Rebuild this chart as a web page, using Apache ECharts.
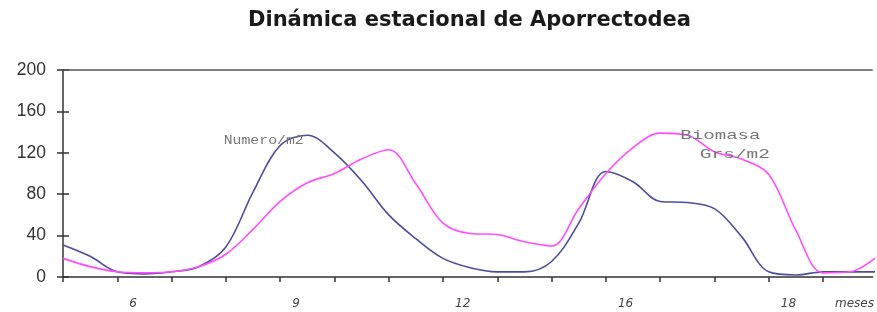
<!DOCTYPE html>
<html>
<head>
<meta charset="utf-8">
<script src="https://cdn.jsdelivr.net/npm/echarts@6/dist/echarts.min.js"></script>
<style>
  html, body { margin: 0; padding: 0; background: #fff; }
  #chart { width: 877px; height: 312px; }
</style>
</head>
<body>
<div id="chart"></div>
<script>
// x positions in month steps (0 = first tick), sampled every half month
var posiciones = [0, 0.5, 1, 1.5, 2, 2.5, 3, 3.5, 4, 4.5, 5, 5.5, 6, 6.5, 7, 7.5,
    8, 8.5, 9, 9.5, 10, 10.5, 11, 11.5, 12, 12.5, 13, 13.5, 14, 14.5, 15];
var numero = [31, 20, 5, 3, 5, 10, 29, 82, 127, 137, 120, 93, 60, 37, 18, 9,
    5, 5, 15, 52, 102, 92, 73, 72, 66, 39, 5, 2, 5, 5, 5];
var biomasa = [18, 10, 5, 4, 5, 10, 22, 46, 73, 91, 100, 114, 123, 90, 52, 42,
    41, 34, 30, 66, 100, 125, 139, 137, 121, 114, 99, 45, 4, 5, 20];
// tick index -> label
var etiquetas = { 1: '6', 4: '9', 7: '12', 10: '16', 13: '18', 14: 'meses' };
var yTicks = [0, 40, 80, 120, 160, 200];

var chart = echarts.init(document.getElementById('chart'));

var mk = function(_xs, _ys) {
    var out = [];
    for (var i = 0; i < _xs.length; i++) {
        out.push([_xs[i], _ys[i]]);
    }
    return out;
};

var option = {
    animation: false,
    title: {
        text: 'Dinámica estacional de Aporrectodea',
        left: 243,
        top: 5,
        textStyle: { fontFamily: 'DejaVu Sans', fontWeight: 'bold', fontSize: 21, color: '#1a1a1a' }
    },
    grid: { left: 63, top: 70, right: -2, bottom: 35, show: false },
    xAxis: {
        type: 'value',
        min: 0,
        max: 14.915,
        interval: 1,
        axisLine: { lineStyle: { color: '#333', width: 1.5 } },
        axisTick: { show: true, length: 5, inside: false, lineStyle: { color: '#333', width: 1.5 } },
        splitLine: { show: false },
        axisLabel: {
            margin: 21,
            align: 'left',
            padding: [0, 0, 0, 12],
            fontFamily: 'DejaVu Sans',
            fontStyle: 'italic',
            fontSize: 12,
            color: '#444',
            showMaxLabel: false,
            formatter: function(v) {
                var k = Math.round(v);
                if (Math.abs(v - k) > 0.01) return '';
                return etiquetas[k] || '';
            }
        }
    },
    yAxis: [{
        type: 'value',
        min: yTicks[0],
        max: yTicks[yTicks.length - 1],
        interval: 40,
        axisLine: { show: true, lineStyle: { color: '#333', width: 1.5 } },
        axisTick: { show: true, length: 6, lineStyle: { color: '#333', width: 1.5 } },
        splitLine: { show: false },
        axisLabel: { margin: 17, fontFamily: 'Liberation Sans', fontSize: 17.5, color: '#333' }
    }, {
        type: 'value',
        position: 'left',
        min: yTicks[0],
        max: yTicks[yTicks.length - 1],
        interval: 40,
        axisLine: { show: false },
        axisTick: { show: true, inside: true, length: 6, lineStyle: { color: '#333', width: 1.5 } },
        axisLabel: { show: false },
        splitLine: { show: false }
    }],
    series: [{
        name: 'Numero/m2',
        type: 'line',
        data: mk(posiciones, numero),
        smooth: 0.35,
        showSymbol: false,
        lineStyle: { color: '#4d4d9f', width: 1.6 },
        markLine: {
            silent: true,
            symbol: 'none',
            label: { show: false },
            lineStyle: { color: '#555', width: 1.5, type: 'solid' },
            data: [{ yAxis: 200 }]
        }
    }, {
        name: 'Biomasa Grs/m2',
        type: 'line',
        data: mk(posiciones, biomasa),
        smooth: 0.35,
        showSymbol: false,
        lineStyle: { color: '#ff4dff', width: 1.6 }
    }]
};
chart.setOption(option);

// series name labels, placed in data coordinates
var notas = [
    { text: 'Numero/m2', at: [2.96, 132], sx: 1.14 },
    { text: 'Biomasa', at: [11.37, 137], sx: 1.47 },
    { text: 'Grs/m2', at: [11.73, 118], sx: 1.5 }
];
var graficos = notas.map(function(n) {
    var p = chart.convertToPixel({ gridIndex: 0 }, n.at);
    return {
        type: 'text',
        x: p[0],
        y: p[1],
        scaleX: n.sx,
        style: {
            text: n.text,
            fill: '#777',
            font: '13px "Liberation Mono"',
            verticalAlign: 'middle'
        },
        z: 10
    };
});
chart.setOption({ graphic: graficos });
</script>
</body>
</html>
